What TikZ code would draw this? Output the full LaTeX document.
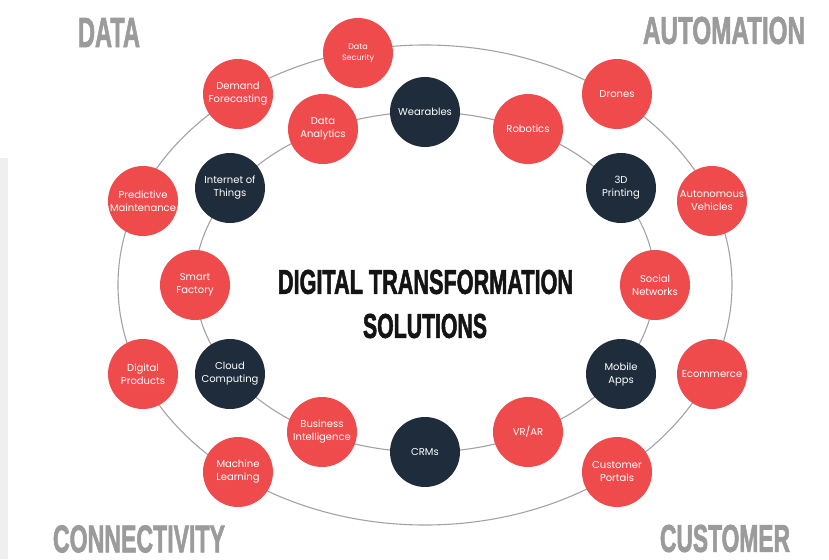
\documentclass[tikz,border=0pt]{standalone}
\usepackage{graphicx}
\usepackage{fontspec}
\setmainfont{Poppins}
\newfontfamily\headfont{Liberation Sans}[BoldFeatures={FakeBold=2.2}]
\definecolor{cred}{HTML}{F04B4C}
\definecolor{cnavy}{HTML}{1F2C3B}
\definecolor{ringc}{HTML}{A3A3A3}
\definecolor{cornerc}{HTML}{9B9B9B}
\definecolor{panelc}{HTML}{EFEFEF}
\newcommand{\fitbox}[3]{\resizebox{#1pt}{#2pt}{\headfont\bfseries #3}}
\tikzset{
  bubble/.style={circle, minimum size=70pt, inner sep=0pt, align=center, text=white,
    font=\fontsize{10}{13}\selectfont},
  redb/.style={bubble, fill=cred},
  navyb/.style={bubble, fill=cnavy},
  ringline/.style={draw=ringc, line width=1.1pt},
  cornerlbl/.style={inner sep=0pt, text=cornerc},
  titlelbl/.style={inner sep=0pt, text=black!92},
}
\begin{document}
\begin{tikzpicture}[x=1pt,y=-1pt]
\fill[white] (0,0) rectangle (829,559);
\useasboundingbox (0,0) rectangle (829,559);
\fill[panelc] (0,158) rectangle (8,559);
% rings
\draw[ringline] (425,285) ellipse [x radius=307pt, y radius=240pt];
\draw[ringline] (425,282) ellipse [x radius=230pt, y radius=170pt];
% outer ring nodes
\node[redb, font=\fontsize{8}{10.5}\selectfont] (ds) at (358,53) {Data\\Security};
\node[redb] (df) at (238,94) {Demand\\Forecasting};
\node[redb] (pm) at (143,201) {Predictive\\Maintenance};
\node[redb] (dp) at (143,374) {Digital\\Products};
\node[redb] (ml) at (238,472) {Machine\\Learning};
\node[redb] (cp) at (617,472) {Customer\\Portals};
\node[redb] (ec) at (712,374) {Ecommerce};
\node[redb] (av) at (712,201) {Autonomous\\Vehicles};
\node[redb] (dr) at (617,94) {Drones};
% inner ring nodes
\node[navyb] (we) at (425,112) {Wearables};
\node[redb]  (ro) at (528,129) {Robotics};
\node[navyb] (tp) at (621,188) {3D\\Printing};
\node[redb]  (sn) at (655,285) {Social\\Networks};
\node[navyb] (ma) at (621,374) {Mobile\\Apps};
\node[redb]  (vr) at (528,432) {VR/AR};
\node[navyb] (cr) at (425,452) {CRMs};
\node[redb]  (bi) at (322,432) {Business\\Intelligence};
\node[navyb] (cc) at (230,374) {Cloud\\Computing};
\node[redb]  (sf) at (195,285) {Smart\\Factory};
\node[navyb] (io) at (230,188) {Internet of\\Things};
\node[redb]  (da) at (323,129) {Data\\Analytics};
% title
\node[titlelbl] (t1) at (425.5,282) {\fitbox{295}{24}{DIGITAL TRANSFORMATION}};
\node[titlelbl] (t2) at (425,326) {\fitbox{124}{24}{SOLUTIONS}};
% corner labels
\node[cornerlbl] (cdata) at (109,32.5) {\fitbox{62}{29}{DATA}};
\node[cornerlbl] (cauto) at (724,30.5) {\fitbox{162}{27}{AUTOMATION}};
\node[cornerlbl] (cconn) at (139,539) {\fitbox{172}{27}{CONNECTIVITY}};
\node[cornerlbl] (ccust) at (725,538.5) {\fitbox{130}{27}{CUSTOMER}};
\end{tikzpicture}
\end{document}
